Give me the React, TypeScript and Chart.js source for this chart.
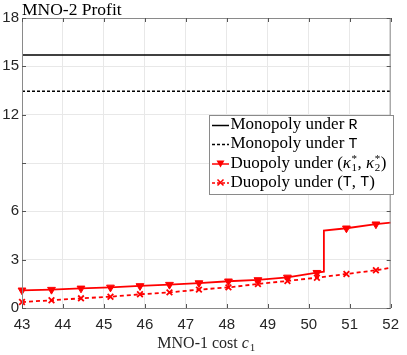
import React, { useEffect, useRef } from "react";
import { Chart, registerables } from "chart.js";

Chart.register(...registerables);

const xTicks = [43, 44, 45, 46, 47, 48, 49, 50, 51, 52];
const yTicks = [0, 3, 6, 9, 12, 15, 18];
const yTickLabels = ["0", "3", "6", "", "12", "15", "18"];
const markerX = [43, 43.72, 44.44, 45.16, 45.88, 46.6, 47.32, 48.04, 48.76, 49.48, 50.2, 50.92, 51.64];

const monoR = 15.7;
const monoT = 13.45;

const optX = [43, 43.72, 44.44, 45.16, 45.88, 46.6, 47.32, 48.04, 48.76, 49.48, 50.2, 50.37, 50.37, 50.92, 51.64, 52];
const optY = [1.1, 1.14, 1.22, 1.28, 1.37, 1.45, 1.55, 1.66, 1.74, 1.9, 2.19, 2.25, 4.8, 4.95, 5.2, 5.3];

const ttX = [43, 43.72, 44.44, 45.16, 45.88, 46.6, 47.32, 48.04, 48.76, 49.48, 50.2, 50.92, 51.64, 52];
const ttY = [0.37, 0.48, 0.6, 0.7, 0.85, 0.97, 1.14, 1.28, 1.49, 1.68, 1.88, 2.11, 2.34, 2.5];

const SERIF = "'Liberation Serif', 'DejaVu Serif', serif";
const MONO = "'Liberation Mono', 'DejaVu Sans Mono', monospace";
const SANS = "'Liberation Sans', Arial, sans-serif";

const isMarker = (x: number, i: number, arr: number[]) =>
  markerX.includes(x) && arr.indexOf(x) === i;

const framePlugin = {
  id: "frame",
  afterDatasetsDraw(chart: any) {
    const { ctx, chartArea: a } = chart;
    ctx.save();
    ctx.strokeStyle = "#8a8a8a";
    ctx.lineWidth = 1;
    ctx.strokeRect(a.left + 0.5, a.top + 0.5, a.right - a.left - 1, a.bottom - a.top);
    const xs = chart.scales.x;
    const ys = chart.scales.y;
    ctx.strokeStyle = "#555";
    ctx.beginPath();
    xTicks.forEach((v) => {
      const px = Math.round(xs.getPixelForValue(v)) + 0.5;
      ctx.moveTo(px, a.bottom);
      ctx.lineTo(px, a.bottom - 4);
      ctx.moveTo(px, a.top);
      ctx.lineTo(px, a.top + 4);
    });
    yTicks.forEach((v) => {
      const py = Math.round(ys.getPixelForValue(v)) + 0.5;
      ctx.moveTo(a.left, py);
      ctx.lineTo(a.left + 4, py);
      ctx.moveTo(a.right, py);
      ctx.lineTo(a.right - 4, py);
    });
    ctx.stroke();

    // title
    ctx.fillStyle = "#000";
    ctx.font = `17.5px ${SERIF}`;
    ctx.textBaseline = "alphabetic";
    ctx.textAlign = "left";
    ctx.fillText("MNO-2 Profit", a.left, 15);

    // x axis label
    ctx.fillStyle = "#262626";
    ctx.font = `16px ${SERIF}`;
    const t1 = "MNO-1 cost ";
    const w1 = ctx.measureText(t1).width;
    ctx.font = `italic 16px ${SERIF}`;
    const wc = ctx.measureText("c").width;
    ctx.font = `11px ${SERIF}`;
    const ws = ctx.measureText("1").width;
    const total = w1 + wc + ws + 1;
    let xl = (a.left + a.right) / 2 - total / 2;
    const yb = 348;
    ctx.font = `16px ${SERIF}`;
    ctx.fillText(t1, xl, yb);
    xl += w1;
    ctx.font = `italic 16px ${SERIF}`;
    ctx.fillText("c", xl, yb);
    xl += wc + 1;
    ctx.font = `11px ${SERIF}`;
    ctx.fillText("1", xl, yb + 3);

    // legend
    const lx = 209, ly = 115, lw = 184, lh = 79;
    ctx.fillStyle = "#fff";
    ctx.fillRect(lx, ly, lw, lh);
    ctx.strokeStyle = "#8a8a8a";
    ctx.strokeRect(lx + 0.5, ly + 0.5, lw, lh);
    const rows = [125, 144, 163.5, 182.5];
    const drawSample = (y: number, color: string, dash: number[], marker?: string) => {
      ctx.save();
      ctx.strokeStyle = color;
      ctx.lineWidth = 1.5;
      ctx.setLineDash(dash);
      ctx.beginPath();
      ctx.moveTo(212, y + 0.5);
      ctx.lineTo(229, y + 0.5);
      ctx.stroke();
      ctx.setLineDash([]);
      const cx = 220.5;
      if (marker === "tri") {
        ctx.fillStyle = color;
        ctx.beginPath();
        ctx.moveTo(cx - 4, y - 3);
        ctx.lineTo(cx + 4, y - 3);
        ctx.lineTo(cx, y + 4);
        ctx.closePath();
        ctx.fill();
      } else if (marker === "x") {
        ctx.lineWidth = 1.5;
        ctx.beginPath();
        ctx.moveTo(cx - 3, y - 3);
        ctx.lineTo(cx + 3, y + 3);
        ctx.moveTo(cx + 3, y - 3);
        ctx.lineTo(cx - 3, y + 3);
        ctx.stroke();
      }
      ctx.restore();
    };
    drawSample(rows[0], "#000", []);
    drawSample(rows[1], "#000", [3, 2]);
    drawSample(rows[2], "#ff0000", [], "tri");
    drawSample(rows[3], "#ff0000", [3, 2], "x");

    ctx.fillStyle = "#000";
    ctx.textBaseline = "middle";
    const tx = 230.5;
    const seg = (parts: [string, string][], y: number) => {
      let x = tx;
      parts.forEach(([text, font]) => {
        ctx.font = font;
        ctx.fillText(text, x, y);
        x += ctx.measureText(text).width;
      });
      return x;
    };
    const base = `17px ${SERIF}`;
    const mono = `15px ${MONO}`;
    seg([["Monopoly under ", base], ["R", mono]], rows[0]);
    seg([["Monopoly under ", base], ["T", mono]], rows[1]);
    let x = seg([["Duopoly under (", base]], rows[2]);
    const kappa = (xx: number, sub: string) => {
      ctx.font = `italic 17px ${SERIF}`;
      ctx.fillText("κ", xx, rows[2]);
      xx += ctx.measureText("κ").width + 0.5;
      ctx.font = `11px ${SERIF}`;
      ctx.fillText("*", xx, rows[2] - 4);
      ctx.fillText(sub, xx, rows[2] + 5);
      return xx + ctx.measureText(sub).width + 0.5;
    };
    x = kappa(x, "1");
    ctx.font = base;
    ctx.fillText(", ", x, rows[2]);
    x += ctx.measureText(", ").width;
    x = kappa(x, "2");
    ctx.font = base;
    ctx.fillText(")", x, rows[2]);
    seg([["Duopoly under (", base], ["T", mono], [", ", base], ["T", mono], [")", base]], rows[3]);
    ctx.restore();
  },
};

export default function App() {
  const ref = useRef<HTMLCanvasElement>(null);
  useEffect(() => {
    document.body.style.margin = "0";
    const c = new Chart(ref.current!, {
      type: "line",
      data: {
        datasets: [
          {
            label: "Monopoly under R",
            data: [{ x: 43, y: monoR }, { x: 52, y: monoR }],
            borderColor: "#000",
            borderWidth: 1.6,
            pointRadius: 0,
          },
          {
            label: "Monopoly under T",
            data: [{ x: 43, y: monoT }, { x: 52, y: monoT }],
            borderColor: "#000",
            borderWidth: 1.5,
            borderDash: [3, 2],
            pointRadius: 0,
          },
          {
            label: "Duopoly opt",
            data: optX.map((x, i) => ({ x, y: optY[i] })),
            borderColor: "#ff0000",
            backgroundColor: "#ff0000",
            borderWidth: 1.8,
            pointStyle: "triangle",
            rotation: 180,
            pointRadius: optX.map((x, i) => (isMarker(x, i, optX) ? 4.5 : 0)),
            pointBorderWidth: 1,
            clip: false,
          },
          {
            label: "Duopoly TT",
            data: ttX.map((x, i) => ({ x, y: ttY[i] })),
            borderColor: "#ff0000",
            backgroundColor: "#ff0000",
            borderWidth: 1.8,
            borderDash: [4, 3],
            pointStyle: "crossRot",
            pointRadius: ttX.map((x, i) => (isMarker(x, i, ttX) ? 4 : 0)),
            pointBorderWidth: 1.8,
            clip: false,
          },
        ],
      },
      options: {
        animation: false,
        responsive: false,
        events: [],
        layout: { padding: { top: 18, right: 10, left: 0, bottom: 0 } },
        plugins: { legend: { display: false }, tooltip: { enabled: false } },
        scales: {
          x: {
            type: "linear",
            min: 43,
            max: 52,
            afterBuildTicks: (s: any) => {
              s.ticks = xTicks.map((v) => ({ value: v }));
            },
            afterFit: (s: any) => {
              s.height = 47;
            },
            grid: { color: "#e8e8e8", drawTicks: false },
            border: { display: false },
            ticks: {
              color: "#262626",
              font: { family: SANS, size: 15 },
              padding: 8,
              maxRotation: 0,
            },
          },
          y: {
            type: "linear",
            min: 0,
            max: 18,
            afterBuildTicks: (s: any) => {
              s.ticks = yTicks.map((v) => ({ value: v }));
            },
            afterFit: (s: any) => {
              s.width = 22;
            },
            grid: { color: "#e8e8e8", drawTicks: false },
            border: { display: false },
            ticks: {
              color: "#262626",
              font: { family: SANS, size: 15 },
              padding: 3,
              callback: (v: any) => {
                const i = yTicks.indexOf(Number(v));
                return i >= 0 ? yTickLabels[i] : "";
              },
            },
          },
        },
      },
      plugins: [framePlugin],
    } as any);
    return () => c.destroy();
  }, []);
  return <canvas ref={ref} width={407} height={355} style={{ display: "block" }} />;
}
